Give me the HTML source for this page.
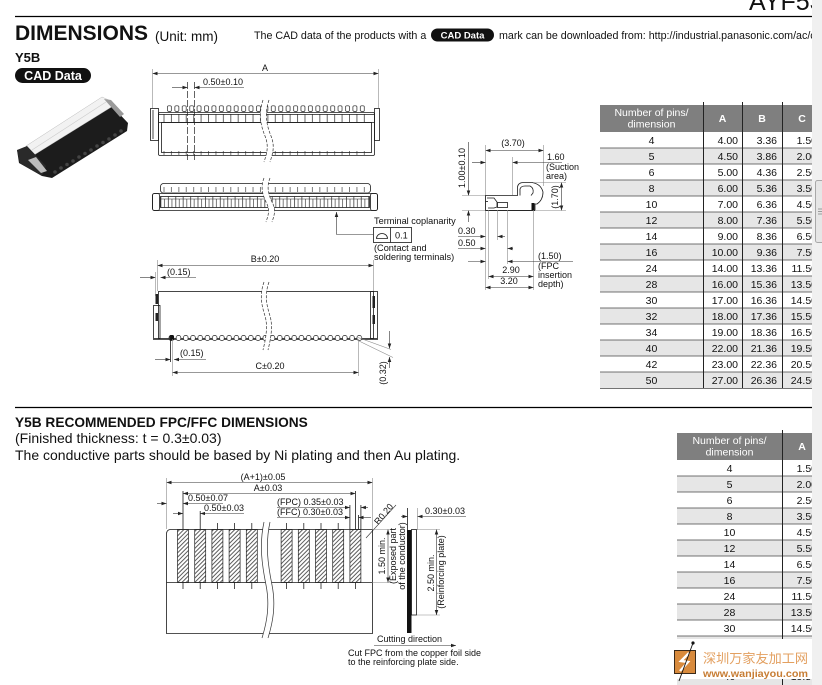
<!DOCTYPE html>
<html><head><meta charset="utf-8">
<style>
html,body{margin:0;padding:0;background:#fff;width:822px;height:685px;overflow:hidden}
svg{display:block}
text{font-family:"Liberation Sans",Arial,sans-serif;fill:#111}
.d{font-size:9px}
.ln{stroke:#1a1a1a;stroke-width:0.8;fill:none}
.dm{stroke:#333;stroke-width:0.6;fill:none}
.ex{stroke:#8a8a8a;stroke-width:0.6;fill:none}
.tb{font-size:10.5px}
.th{font-size:10.5px;fill:#fff}
</style></head><body>
<svg width="822" height="685" viewBox="0 0 822 685" xmlns="http://www.w3.org/2000/svg">
<defs>
<marker id="ar" viewBox="0 0 10 10" refX="10" refY="5" markerWidth="5" markerHeight="5" markerUnits="userSpaceOnUse" orient="auto-start-reverse"><path d="M0,1.5 L10,5 L0,8.5 z" fill="#222"/></marker>
<pattern id="pPin" x="166" y="105" width="7.42" height="8" patternUnits="userSpaceOnUse"><rect x="1.4" y="0.8" width="4" height="5.6" rx="1.2" fill="#fff" stroke="#222" stroke-width="0.7"/></pattern>
<pattern id="pWin" x="163.5" y="0" width="7.42" height="10" patternUnits="userSpaceOnUse"><line x1="0.5" y1="0" x2="0.5" y2="10" stroke="#222" stroke-width="0.7"/></pattern>
<pattern id="pTick" x="163.5" y="0" width="7.42" height="10" patternUnits="userSpaceOnUse"><line x1="0.5" y1="0" x2="0.5" y2="10" stroke="#222" stroke-width="0.6"/></pattern>
<pattern id="pCell" x="160.5" y="196.5" width="7.42" height="11" patternUnits="userSpaceOnUse"><line x1="0.4" y1="0" x2="0.4" y2="11" stroke="#222" stroke-width="0.7"/><line x1="4" y1="2.5" x2="4" y2="11" stroke="#222" stroke-width="0.6"/><line x1="0" y1="2.5" x2="7.42" y2="2.5" stroke="#222" stroke-width="0.5"/></pattern>
<pattern id="pBot" x="168" y="335" width="7.23" height="7" patternUnits="userSpaceOnUse"><rect x="1" y="0.5" width="4.6" height="5" rx="2" fill="#fff" stroke="#222" stroke-width="0.7"/></pattern>
<pattern id="ph" width="3" height="3" patternUnits="userSpaceOnUse" patternTransform="rotate(45)"><line x1="0.5" y1="0" x2="0.5" y2="3" stroke="#333" stroke-width="0.8"/></pattern>
</defs>

<!-- ===== HEADER ===== -->
<text x="749" y="10" font-size="25">AYF53</text>
<line x1="15" y1="16.5" x2="812" y2="16.5" stroke="#000" stroke-width="1.2"/>
<text x="15" y="40" font-size="21" font-weight="bold">DIMENSIONS</text>
<text x="155" y="41" font-size="13.5">(Unit: mm)</text>
<text x="254" y="39" font-size="10.7">The CAD data of the products with a</text>
<rect x="431" y="28.5" width="63" height="13" rx="6.5" fill="#111"/>
<text x="462.5" y="38.5" font-size="9.5" font-weight="bold" text-anchor="middle" style="fill:#fff">CAD Data</text>
<text x="499" y="39" font-size="10.7">mark can be downloaded from: http://industrial.panasonic.com/ac/c</text>
<text x="15" y="62" font-size="13" font-weight="bold">Y5B</text>
<rect x="15" y="68" width="76" height="15" rx="7.5" fill="#111"/>
<text x="53" y="80" font-size="12.5" font-weight="bold" text-anchor="middle" style="fill:#fff">CAD Data</text>

<!-- ===== PRODUCT PHOTO ===== -->
<g>
<polygon points="30,152 110,104 128,123 127,131 52,178 42,176 19,163 17,150" fill="#1c1c1c"/>
<polygon points="26,146 102,97 111,101 113,106 34,155" fill="#f2f2f2" stroke="#bbb" stroke-width="0.5"/>
<polyline points="32,150 106,102" stroke="#ccc" stroke-width="0.6" fill="none"/>
<polygon points="17,150 27,146 46,166 42,176 20,163" fill="#2a2a2a"/>
<polygon points="28,160 36,157 47,171 41,173" fill="#bdbdbd"/>
<polygon points="104,99 111,100 124,114 120,117" fill="#9a9a9a"/>
<g fill="#444">
<circle cx="55" cy="172" r="1.8"/><circle cx="61" cy="168" r="1.8"/><circle cx="67" cy="164.5" r="1.8"/><circle cx="73" cy="161" r="1.8"/><circle cx="79" cy="157" r="1.8"/><circle cx="85" cy="153.5" r="1.8"/><circle cx="91" cy="150" r="1.8"/><circle cx="97" cy="146" r="1.8"/><circle cx="103" cy="142.5" r="1.8"/><circle cx="109" cy="139" r="1.8"/><circle cx="115" cy="135" r="1.8"/><circle cx="121" cy="131" r="1.8"/>
</g>
</g>

<!-- ===== TOP VIEW ===== -->
<g>
<line class="dm" x1="152.5" y1="73.5" x2="378.5" y2="73.5" marker-start="url(#ar)" marker-end="url(#ar)"/>
<line class="ex" x1="152.5" y1="69" x2="152.5" y2="108"/>
<line class="ex" x1="378.5" y1="69" x2="378.5" y2="108"/>
<text class="d" x="265" y="71" text-anchor="middle">A</text>
<text class="d" x="203" y="85">0.50±0.10</text>
<line class="dm" x1="172" y1="87.5" x2="187.5" y2="87.5" marker-end="url(#ar)"/>
<line class="dm" x1="194.5" y1="87.5" x2="244" y2="87.5" marker-start="url(#ar)"/>
<line x1="187.5" y1="82" x2="187.5" y2="160" stroke="#222" stroke-width="0.7" stroke-dasharray="7,2"/>
<line x1="194.5" y1="82" x2="194.5" y2="160" stroke="#222" stroke-width="0.7" stroke-dasharray="7,2"/>
<rect class="ln" x="150.5" y="108.5" width="8" height="32"/>
<line class="ln" x1="153" y1="110" x2="153" y2="139"/>
<rect class="ln" x="374.5" y="108.5" width="5" height="32"/>
<rect class="ln" x="158.5" y="112.5" width="216" height="43" rx="1.5" fill="#fff"/>
<rect x="163" y="114" width="207" height="8" fill="url(#pWin)"/>
<line class="ln" x1="159" y1="114.5" x2="374" y2="114.5"/>
<line class="ln" x1="159" y1="122.5" x2="374" y2="122.5"/>
<rect class="ln" x="161.5" y="122.5" width="210" height="30"/>
<rect x="163" y="151" width="207" height="4" fill="url(#pTick)"/>
<rect x="166" y="105" width="200" height="7.5" fill="url(#pPin)"/>
<path d="M263,100 C258,115 261,126 265,136 C269,146 267,153 264,162 L270,162 C273,153 275,146 271,136 C267,126 264,115 269,100 Z" fill="#fff"/>
<path d="M263,100 C258,115 261,126 265,136 C269,146 267,153 264,162" stroke="#333" stroke-width="0.7" fill="none" stroke-dasharray="3,1.5"/>
<path d="M269,100 C264,115 267,126 271,136 C275,146 273,153 270,162" stroke="#333" stroke-width="0.7" fill="none" stroke-dasharray="3,1.5"/>
</g>

<!-- ===== FRONT VIEW ===== -->
<g>
<rect class="ln" x="160.5" y="183.5" width="210" height="9.5" rx="3" fill="#fff"/>
<rect x="163" y="187" width="207" height="5" fill="url(#pTick)"/>
<rect class="ln" x="152.5" y="193.5" width="225" height="17" rx="2" fill="#fff"/>
<rect x="160.5" y="196.5" width="209" height="11" fill="url(#pCell)"/>
<rect class="ln" x="160.5" y="196.5" width="209" height="11"/>
<rect class="ln" x="152.5" y="193.5" width="7" height="17" rx="2"/>
<rect class="ln" x="370.5" y="193.5" width="7" height="17" rx="2"/>
<path d="M264,178 C260,188 263,196 267,204 C270,211 268,216 266,222 L272,222 C274,216 276,211 273,204 C269,196 266,188 270,178 Z" fill="#fff"/>
<path d="M264,178 C260,188 263,196 267,204 C270,211 268,216 266,222" stroke="#333" stroke-width="0.7" fill="none" stroke-dasharray="3,1.5"/>
<path d="M270,178 C266,188 269,196 273,204 C276,211 274,216 272,222" stroke="#333" stroke-width="0.7" fill="none" stroke-dasharray="3,1.5"/>
<line class="dm" x1="336.5" y1="234.5" x2="336.5" y2="212" marker-end="url(#ar)"/>
<polyline class="dm" points="336.5,234.5 373,234.5"/>
</g>

<!-- Terminal coplanarity -->
<text x="374" y="224" font-size="9.2">Terminal coplanarity</text>
<rect class="ln" x="373.5" y="227.5" width="38" height="15" fill="#fff"/>
<line class="ln" x1="390.5" y1="227.5" x2="390.5" y2="242.5"/>
<path d="M376.5,238.5 A5.5,5 0 0 1 387.5,238.5 Z" class="ln"/>
<text x="395" y="238.5" font-size="9.2">0.1</text>
<text x="374" y="251" font-size="9.2">(Contact and</text>
<text x="374" y="260" font-size="9.2">soldering terminals)</text>

<!-- ===== SIDE VIEW ===== -->
<g>
<text class="d" x="513" y="146" text-anchor="middle">(3.70)</text>
<line class="dm" x1="485.5" y1="150.5" x2="543.5" y2="150.5" marker-start="url(#ar)" marker-end="url(#ar)"/>
<line class="ex" x1="485.5" y1="145" x2="485.5" y2="290"/>
<line class="ex" x1="543.5" y1="145" x2="543.5" y2="186"/>
<text class="d" x="547" y="160">1.60</text>
<text class="d" x="546" y="170">(Suction</text>
<text class="d" x="546" y="179">area)</text>
<line class="dm" x1="472" y1="162.5" x2="485.5" y2="162.5" marker-end="url(#ar)"/>
<line class="dm" x1="512.5" y1="162.5" x2="562" y2="162.5" marker-start="url(#ar)"/>
<line class="ex" x1="512.5" y1="157" x2="512.5" y2="195"/>
<text class="d" transform="translate(465,168) rotate(-90)" text-anchor="middle">1.00±0.10</text>
<line class="dm" x1="468.5" y1="142" x2="468.5" y2="195.5" marker-end="url(#ar)"/>
<line class="dm" x1="468.5" y1="222" x2="468.5" y2="210.5" marker-end="url(#ar)"/>
<line class="ex" x1="462" y1="195.5" x2="485" y2="195.5"/>
<line class="ex" x1="462" y1="210.5" x2="485" y2="210.5"/>
<!-- profile -->
<path class="ln" d="M485.5,195.5 L517.5,195.5 L517.5,187 Q518,182.5 524,182.5 L532,182.5 Q541,184 543,192 Q543,200 537,204 L535,204 L535,210.5 L485.5,210.5 Z" fill="#fff"/>
<path class="ln" d="M520,195.5 L520,189 Q521,186 525,186 L530,186 Q534,188 533,193 L531,195.5"/>
<path class="ln" d="M487,198 L494,198 L497,202 L497,207 L494,208 L488,208"/>
<rect class="ln" x="497.5" y="202.5" width="10" height="5"/>
<line class="ln" x1="485.5" y1="201.5" x2="488" y2="201.5"/>
<rect x="531.5" y="203" width="3" height="7" fill="#111"/>
<line class="ln" x1="486" y1="210.5" x2="535" y2="210.5" stroke-width="1.4"/>
<text class="d" transform="translate(558,197) rotate(-90)" text-anchor="middle">(1.70)</text>
<line class="dm" x1="561.5" y1="182.5" x2="561.5" y2="210.5" marker-start="url(#ar)" marker-end="url(#ar)"/>
<line class="ex" x1="533" y1="182.5" x2="566" y2="182.5"/>
<line class="ex" x1="536" y1="210.5" x2="566" y2="210.5"/>
<line class="ex" x1="488.5" y1="210" x2="488.5" y2="279"/>
<line class="ex" x1="497.5" y1="210" x2="497.5" y2="240"/>
<line class="ex" x1="507.5" y1="210" x2="507.5" y2="264"/>
<line class="ex" x1="533.5" y1="210" x2="533.5" y2="290"/>
<text class="d" x="458" y="234">0.30</text>
<line class="dm" x1="458" y1="236.5" x2="485.5" y2="236.5" marker-end="url(#ar)"/>
<line class="dm" x1="497.5" y1="236.5" x2="505" y2="236.5" marker-start="url(#ar)"/>
<text class="d" x="458" y="246">0.50</text>
<line class="dm" x1="458" y1="248.5" x2="485.5" y2="248.5" marker-end="url(#ar)"/>
<line class="dm" x1="507.5" y1="248.5" x2="513" y2="248.5" marker-start="url(#ar)"/>
<text class="d" x="538" y="259">(1.50)</text>
<line class="dm" x1="468" y1="261.5" x2="485.5" y2="261.5" marker-end="url(#ar)"/>
<line class="dm" x1="507.5" y1="261.5" x2="573" y2="261.5" marker-start="url(#ar)"/>
<text class="d" x="538" y="269">(FPC</text>
<text class="d" x="538" y="278">insertion</text>
<text class="d" x="538" y="287">depth)</text>
<text class="d" x="511" y="273" text-anchor="middle">2.90</text>
<line class="dm" x1="488.5" y1="276.5" x2="533.5" y2="276.5" marker-start="url(#ar)" marker-end="url(#ar)"/>
<text class="d" x="509" y="284" text-anchor="middle">3.20</text>
<line class="dm" x1="485.5" y1="287.5" x2="533.5" y2="287.5" marker-start="url(#ar)" marker-end="url(#ar)"/>
</g>

<!-- ===== B / C VIEW ===== -->
<g>
<text class="d" x="265" y="262" text-anchor="middle">B±0.20</text>
<line class="dm" x1="157.5" y1="265.5" x2="373.5" y2="265.5" marker-start="url(#ar)" marker-end="url(#ar)"/>
<line class="ex" x1="157.5" y1="260" x2="157.5" y2="291"/>
<line class="ex" x1="373.5" y1="260" x2="373.5" y2="291"/>
<text class="d" x="167" y="275">(0.15)</text>
<line class="dm" x1="140" y1="277.5" x2="155.5" y2="277.5" marker-end="url(#ar)"/>
<line class="dm" x1="160.5" y1="277.5" x2="196" y2="277.5" marker-start="url(#ar)"/>
<line class="ex" x1="155.5" y1="272" x2="155.5" y2="296"/>
<rect class="ln" x="158.5" y="291.5" width="215" height="47" fill="#fff"/>
<rect class="ln" x="153.5" y="305.5" width="6.5" height="33" fill="#fff"/>
<rect x="155.5" y="294" width="2.5" height="10" fill="#222"/>
<rect x="155.5" y="313" width="2.5" height="8" fill="#222"/>
<rect class="ln" x="370.5" y="291.5" width="7" height="47" fill="#fff"/>
<rect x="372.5" y="296" width="2.5" height="12" fill="#222"/>
<rect x="372.5" y="315" width="2.5" height="9" fill="#222"/>
<line class="ln" x1="153" y1="339.5" x2="378" y2="339.5"/>
<rect x="168" y="335" width="195" height="7" fill="url(#pBot)"/>
<rect x="169.5" y="335" width="4.5" height="5.5" rx="1.5" fill="#111"/>
<path d="M264,282 C259,296 262,306 265,316 C268,326 266,338 263,350 L268,350 C271,338 273,326 270,316 C267,306 264,296 269,282 Z" fill="#fff"/>
<path d="M264,282 C259,296 262,306 265,316 C268,326 266,338 263,350" stroke="#333" stroke-width="0.7" fill="none" stroke-dasharray="3,1.5"/>
<path d="M269,282 C264,296 267,306 270,316 C273,326 271,338 268,350" stroke="#333" stroke-width="0.7" fill="none" stroke-dasharray="3,1.5"/>
<line class="ex" x1="172.5" y1="339" x2="172.5" y2="376"/>
<line class="ex" x1="358.5" y1="339" x2="358.5" y2="376"/>
<line class="ln" x1="170.5" y1="336" x2="170.5" y2="362" stroke-width="1.2"/>
<text class="d" x="180" y="356">(0.15)</text>
<line class="dm" x1="155" y1="359.5" x2="170.5" y2="359.5" marker-end="url(#ar)"/>
<line class="dm" x1="174" y1="359.5" x2="206" y2="359.5" marker-start="url(#ar)"/>
<text class="d" x="270" y="369" text-anchor="middle">C±0.20</text>
<line class="dm" x1="172.5" y1="372.5" x2="358.5" y2="372.5" marker-start="url(#ar)" marker-end="url(#ar)"/>
<line class="ex" x1="358" y1="337.5" x2="391" y2="349.5"/>
<line class="ex" x1="358" y1="340.5" x2="393" y2="357.5"/>
<line class="dm" x1="389.5" y1="331" x2="389.5" y2="348.5" marker-end="url(#ar)"/>
<line class="dm" x1="389.5" y1="368" x2="389.5" y2="357" marker-end="url(#ar)"/>
<text class="d" transform="translate(386,373) rotate(-90)" text-anchor="middle">(0.32)</text>
</g>

<!-- ===== TABLE 1 ===== -->
<g>
<rect x="600" y="105" width="222" height="27" fill="#7f7f7f"/>
<text class="th" x="651.5" y="116" text-anchor="middle">Number of pins/</text>
<text class="th" x="651.5" y="127.5" text-anchor="middle">dimension</text>
<text class="th" x="722.5" y="122" text-anchor="middle" font-weight="bold">A</text>
<text class="th" x="762" y="122" text-anchor="middle" font-weight="bold">B</text>
<text class="th" x="802" y="122" text-anchor="middle" font-weight="bold">C</text>
<g fill="#e6e6e6">
<rect x="600" y="148" width="222" height="16"/><rect x="600" y="180" width="222" height="16"/><rect x="600" y="212" width="222" height="16"/><rect x="600" y="244" width="222" height="16"/><rect x="600" y="276" width="222" height="16"/><rect x="600" y="308" width="222" height="16"/><rect x="600" y="340" width="222" height="16"/><rect x="600" y="372" width="222" height="16"/>
</g>
<g stroke="#444" stroke-width="0.7">
<line x1="600" y1="148" x2="822" y2="148"/><line x1="600" y1="164" x2="822" y2="164"/><line x1="600" y1="180" x2="822" y2="180"/><line x1="600" y1="196" x2="822" y2="196"/><line x1="600" y1="212" x2="822" y2="212"/><line x1="600" y1="228" x2="822" y2="228"/><line x1="600" y1="244" x2="822" y2="244"/><line x1="600" y1="260" x2="822" y2="260"/><line x1="600" y1="276" x2="822" y2="276"/><line x1="600" y1="292" x2="822" y2="292"/><line x1="600" y1="308" x2="822" y2="308"/><line x1="600" y1="324" x2="822" y2="324"/><line x1="600" y1="340" x2="822" y2="340"/><line x1="600" y1="356" x2="822" y2="356"/><line x1="600" y1="372" x2="822" y2="372"/><line x1="600" y1="388.5" x2="822" y2="388.5"/>
</g>
<g stroke="#222" stroke-width="1">
<line x1="703.5" y1="102" x2="703.5" y2="388"/><line x1="742.5" y1="102" x2="742.5" y2="388"/><line x1="782.5" y1="102" x2="782.5" y2="388"/>
</g>
<g class="tb" text-anchor="middle">
<text class="tb" x="651.5" y="144">4</text><text class="tb" x="651.5" y="160">5</text><text class="tb" x="651.5" y="176">6</text><text class="tb" x="651.5" y="192">8</text><text class="tb" x="651.5" y="208">10</text><text class="tb" x="651.5" y="224">12</text><text class="tb" x="651.5" y="240">14</text><text class="tb" x="651.5" y="256">16</text><text class="tb" x="651.5" y="272">24</text><text class="tb" x="651.5" y="288">28</text><text class="tb" x="651.5" y="304">30</text><text class="tb" x="651.5" y="320">32</text><text class="tb" x="651.5" y="336">34</text><text class="tb" x="651.5" y="352">40</text><text class="tb" x="651.5" y="368">42</text><text class="tb" x="651.5" y="384">50</text>
</g>
<g text-anchor="end">
<text class="tb" x="738" y="144">4.00</text><text class="tb" x="738" y="160">4.50</text><text class="tb" x="738" y="176">5.00</text><text class="tb" x="738" y="192">6.00</text><text class="tb" x="738" y="208">7.00</text><text class="tb" x="738" y="224">8.00</text><text class="tb" x="738" y="240">9.00</text><text class="tb" x="738" y="256">10.00</text><text class="tb" x="738" y="272">14.00</text><text class="tb" x="738" y="288">16.00</text><text class="tb" x="738" y="304">17.00</text><text class="tb" x="738" y="320">18.00</text><text class="tb" x="738" y="336">19.00</text><text class="tb" x="738" y="352">22.00</text><text class="tb" x="738" y="368">23.00</text><text class="tb" x="738" y="384">27.00</text>
<text class="tb" x="777" y="144">3.36</text><text class="tb" x="777" y="160">3.86</text><text class="tb" x="777" y="176">4.36</text><text class="tb" x="777" y="192">5.36</text><text class="tb" x="777" y="208">6.36</text><text class="tb" x="777" y="224">7.36</text><text class="tb" x="777" y="240">8.36</text><text class="tb" x="777" y="256">9.36</text><text class="tb" x="777" y="272">13.36</text><text class="tb" x="777" y="288">15.36</text><text class="tb" x="777" y="304">16.36</text><text class="tb" x="777" y="320">17.36</text><text class="tb" x="777" y="336">18.36</text><text class="tb" x="777" y="352">21.36</text><text class="tb" x="777" y="368">22.36</text><text class="tb" x="777" y="384">26.36</text>
<text class="tb" x="817" y="144">1.50</text><text class="tb" x="817" y="160">2.00</text><text class="tb" x="817" y="176">2.50</text><text class="tb" x="817" y="192">3.50</text><text class="tb" x="817" y="208">4.50</text><text class="tb" x="817" y="224">5.50</text><text class="tb" x="817" y="240">6.50</text><text class="tb" x="817" y="256">7.50</text><text class="tb" x="817" y="272">11.50</text><text class="tb" x="817" y="288">13.50</text><text class="tb" x="817" y="304">14.50</text><text class="tb" x="817" y="320">15.50</text><text class="tb" x="817" y="336">16.50</text><text class="tb" x="817" y="352">19.50</text><text class="tb" x="817" y="368">20.50</text><text class="tb" x="817" y="384">24.50</text>
</g>
</g>

<!-- ===== SECTION 2 ===== -->
<line x1="15" y1="407.5" x2="812" y2="407.5" stroke="#000" stroke-width="1.2"/>
<text x="15" y="427" font-size="13.7" font-weight="bold">Y5B RECOMMENDED FPC/FFC DIMENSIONS</text>
<text x="15" y="443" font-size="14">(Finished thickness: t = 0.3±0.03)</text>
<text x="15" y="460" font-size="14">The conductive parts should be based by Ni plating and then Au plating.</text>

<!-- ===== FPC DRAWING ===== -->
<g>
<text class="d" x="263" y="480" text-anchor="middle">(A+1)±0.05</text>
<line class="dm" x1="166.5" y1="482.5" x2="372.5" y2="482.5" marker-start="url(#ar)" marker-end="url(#ar)"/>
<line class="ex" x1="166.5" y1="478" x2="166.5" y2="529"/>
<line class="ex" x1="372.5" y1="478" x2="372.5" y2="529"/>
<text class="d" x="268" y="491" text-anchor="middle">A±0.03</text>
<line class="dm" x1="183" y1="493.5" x2="355.4" y2="493.5" marker-start="url(#ar)" marker-end="url(#ar)"/>
<line class="ln" x1="183" y1="491" x2="183" y2="529"/>
<line class="ln" x1="355.4" y1="491" x2="355.4" y2="529"/>
<text class="d" x="188" y="501">0.50±0.07</text>
<line class="dm" x1="157" y1="503.5" x2="166.5" y2="503.5" marker-end="url(#ar)"/>
<line class="dm" x1="183" y1="503.5" x2="223" y2="503.5" marker-start="url(#ar)"/>
<text class="d" x="204" y="511">0.50±0.03</text>
<line class="dm" x1="173" y1="513.5" x2="183" y2="513.5" marker-end="url(#ar)"/>
<line class="dm" x1="200.2" y1="513.5" x2="244" y2="513.5" marker-start="url(#ar)"/>
<line class="ln" x1="200.2" y1="511" x2="200.2" y2="529"/>
<text class="d" x="277" y="505">(FPC) 0.35±0.03</text>
<line class="dm" x1="277" y1="507.5" x2="349.9" y2="507.5" marker-end="url(#ar)"/>
<line class="dm" x1="360.9" y1="507.5" x2="368" y2="507.5" marker-start="url(#ar)"/>
<text class="d" x="277" y="515">(FFC) 0.30±0.03</text>
<line class="dm" x1="277" y1="517.5" x2="349.9" y2="517.5" marker-end="url(#ar)"/>
<line class="dm" x1="358.5" y1="517.5" x2="371" y2="517.5" marker-start="url(#ar)"/>
<line class="ln" x1="349.9" y1="505" x2="349.9" y2="529"/>
<line class="ln" x1="358.5" y1="515" x2="358.5" y2="529"/>
<line class="ln" x1="360.9" y1="505" x2="360.9" y2="529"/>
<text class="d" transform="translate(386,516) rotate(-50)" text-anchor="middle">R0.20</text>
<line class="dm" x1="366" y1="538" x2="396" y2="505"/>
<path class="ln" d="M166.5,633.5 L166.5,534 Q166.5,529.5 171,529.5 L372.5,529.5 L372.5,633.5 Z" fill="#fff"/>
<line class="ln" x1="166.5" y1="582.5" x2="372.5" y2="582.5"/>
<g stroke="#222" stroke-width="0.7" fill="url(#ph)">
<rect x="177.5" y="529.5" width="11" height="53"/><rect x="194.7" y="529.5" width="11" height="53"/><rect x="211.9" y="529.5" width="11" height="53"/><rect x="229.1" y="529.5" width="11" height="53"/><rect x="246.3" y="529.5" width="11" height="53"/>
<rect x="281.1" y="529.5" width="11" height="53"/><rect x="298.3" y="529.5" width="11" height="53"/><rect x="315.5" y="529.5" width="11" height="53"/><rect x="332.7" y="529.5" width="11" height="53"/><rect x="349.9" y="529.5" width="11" height="53"/>
</g>
<g stroke="#222" stroke-width="0.8">
<line x1="217.4" y1="523" x2="217.4" y2="529"/><line x1="234.6" y1="523" x2="234.6" y2="529"/><line x1="251.8" y1="523" x2="251.8" y2="529"/><line x1="286.6" y1="523" x2="286.6" y2="529"/><line x1="303.8" y1="523" x2="303.8" y2="529"/><line x1="321" y1="523" x2="321" y2="529"/><line x1="338.2" y1="523" x2="338.2" y2="529"/>
<line x1="183" y1="582" x2="183" y2="589"/><line x1="200.2" y1="582" x2="200.2" y2="589"/><line x1="217.4" y1="582" x2="217.4" y2="589"/><line x1="234.6" y1="582" x2="234.6" y2="589"/><line x1="251.8" y1="582" x2="251.8" y2="589"/><line x1="286.6" y1="582" x2="286.6" y2="589"/><line x1="303.8" y1="582" x2="303.8" y2="589"/><line x1="321" y1="582" x2="321" y2="589"/><line x1="338.2" y1="582" x2="338.2" y2="589"/><line x1="355.4" y1="582" x2="355.4" y2="589"/>
</g>
<path d="M264,522 C259,545 262,565 266,585 C270,605 267,622 262,638 L268,638 C273,622 276,605 272,585 C268,565 265,545 270,522 Z" fill="#fff"/>
<path d="M264,522 C259,545 262,565 266,585 C270,605 267,622 262,638" stroke="#333" stroke-width="0.7" fill="none"/>
<path d="M270,522 C265,545 268,565 272,585 C276,605 273,622 268,638" stroke="#333" stroke-width="0.7" fill="none"/>
<line class="ex" x1="372" y1="529.5" x2="392" y2="529.5"/>
<line class="ex" x1="372" y1="582.5" x2="392" y2="582.5"/>
<line class="dm" x1="388" y1="529.5" x2="388" y2="582.5" marker-start="url(#ar)" marker-end="url(#ar)"/>
<text class="d" transform="translate(385,556) rotate(-90)" text-anchor="middle">1.50 min.</text>
<text class="d" transform="translate(396,556) rotate(-90)" text-anchor="middle">(Exposed part</text>
<text class="d" transform="translate(405,556) rotate(-90)" text-anchor="middle">of the conductor)</text>
<!-- side profile -->
<line class="ln" x1="407.5" y1="508" x2="407.5" y2="530"/>
<line class="ex" x1="417.5" y1="508" x2="417.5" y2="530"/>
<rect x="407" y="530" width="4.5" height="103" fill="#111"/>
<rect class="ln" x="411.5" y="529.5" width="5" height="85.5" fill="#fff"/>
<text class="d" x="425" y="514">0.30±0.03</text>
<line class="dm" x1="401" y1="516.5" x2="407.5" y2="516.5" marker-end="url(#ar)"/>
<line class="dm" x1="417.5" y1="516.5" x2="466" y2="516.5" marker-start="url(#ar)"/>
<line class="ex" x1="417" y1="529.5" x2="440" y2="529.5"/>
<line class="ex" x1="417" y1="615" x2="440" y2="615"/>
<line class="dm" x1="436.5" y1="529.5" x2="436.5" y2="615" marker-start="url(#ar)" marker-end="url(#ar)"/>
<text class="d" transform="translate(434,573) rotate(-90)" text-anchor="middle">2.50 min.</text>
<text class="d" transform="translate(444,572) rotate(-90)" text-anchor="middle">(Reinforcing plate)</text>
<text class="d" x="377" y="642">Cutting direction</text>
<line class="dm" x1="374" y1="645.5" x2="456" y2="645.5" marker-end="url(#ar)"/>
<text class="d" x="348" y="656">Cut FPC from the copper foil side</text>
<text class="d" x="348" y="665">to the reinforcing plate side.</text>
</g>

<!-- ===== TABLE 2 ===== -->
<g>
<rect x="677" y="433" width="145" height="27" fill="#7f7f7f"/>
<text class="th" x="729.5" y="444" text-anchor="middle">Number of pins/</text>
<text class="th" x="729.5" y="455.5" text-anchor="middle">dimension</text>
<text class="th" x="802" y="450" text-anchor="middle" font-weight="bold">A</text>
<g fill="#e6e6e6">
<rect x="677" y="476" width="145" height="16"/><rect x="677" y="508" width="145" height="16"/><rect x="677" y="540" width="145" height="16"/><rect x="677" y="572" width="145" height="16"/><rect x="677" y="604" width="145" height="16"/><rect x="677" y="636" width="145" height="16"/><rect x="677" y="668" width="145" height="17"/>
</g>
<g stroke="#444" stroke-width="0.7">
<line x1="677" y1="476" x2="822" y2="476"/><line x1="677" y1="492" x2="822" y2="492"/><line x1="677" y1="508" x2="822" y2="508"/><line x1="677" y1="524" x2="822" y2="524"/><line x1="677" y1="540" x2="822" y2="540"/><line x1="677" y1="556" x2="822" y2="556"/><line x1="677" y1="572" x2="822" y2="572"/><line x1="677" y1="588" x2="822" y2="588"/><line x1="677" y1="604" x2="822" y2="604"/><line x1="677" y1="620" x2="822" y2="620"/><line x1="677" y1="636" x2="822" y2="636"/><line x1="677" y1="652" x2="822" y2="652"/><line x1="677" y1="668" x2="822" y2="668"/>
</g>
<line x1="782.5" y1="430" x2="782.5" y2="685" stroke="#222" stroke-width="1"/>
<g text-anchor="middle">
<text class="tb" x="729.5" y="472">4</text><text class="tb" x="729.5" y="488">5</text><text class="tb" x="729.5" y="504">6</text><text class="tb" x="729.5" y="520">8</text><text class="tb" x="729.5" y="536">10</text><text class="tb" x="729.5" y="552">12</text><text class="tb" x="729.5" y="568">14</text><text class="tb" x="729.5" y="584">16</text><text class="tb" x="729.5" y="600">24</text><text class="tb" x="729.5" y="616">28</text><text class="tb" x="729.5" y="632">30</text><text class="tb" x="729.5" y="648">32</text><text class="tb" x="729.5" y="664">34</text><text class="tb" x="729.5" y="680">40</text>
</g>
<g text-anchor="end">
<text class="tb" x="817" y="472">1.50</text><text class="tb" x="817" y="488">2.00</text><text class="tb" x="817" y="504">2.50</text><text class="tb" x="817" y="520">3.50</text><text class="tb" x="817" y="536">4.50</text><text class="tb" x="817" y="552">5.50</text><text class="tb" x="817" y="568">6.50</text><text class="tb" x="817" y="584">7.50</text><text class="tb" x="817" y="600">11.50</text><text class="tb" x="817" y="616">13.50</text><text class="tb" x="817" y="632">14.50</text><text class="tb" x="817" y="648">15.50</text><text class="tb" x="817" y="664">16.50</text><text class="tb" x="817" y="680">19.50</text>
</g>
</g>

<!-- ===== WATERMARK ===== -->
<g>
<rect x="671" y="639" width="146" height="40" fill="#fff"/>
<rect x="674.5" y="650.5" width="21" height="23" fill="#d88a3c" stroke="#3a2a1a" stroke-width="1"/>
<path d="M689,653 L681,661 L688,662 L680,671" stroke="#fff" stroke-width="2.4" fill="none"/>
<line x1="693" y1="643" x2="679" y2="681" stroke="#111" stroke-width="0.9"/>
<circle cx="693" cy="643" r="1.6" fill="#111"/>
<text x="703" y="663" font-size="13" textLength="105" lengthAdjust="spacingAndGlyphs" style="fill:#e3a060;font-family:'Liberation Sans','Noto Sans CJK SC',sans-serif">深圳万家友加工网</text>
<text x="703" y="677" font-size="10.5" font-weight="bold" textLength="105" lengthAdjust="spacingAndGlyphs" style="fill:#c77d34">www.wanjiayou.com</text>
</g>

<!-- ===== SCROLLBAR ===== -->
<rect x="812" y="0" width="10" height="685" fill="#f0f0f0"/>
<rect x="815.5" y="180.5" width="8" height="62" rx="2" fill="#e6e6e6" stroke="#a8a8a8" stroke-width="1"/>
<g stroke="#888" stroke-width="0.8"><line x1="818" y1="209" x2="822" y2="209"/><line x1="818" y1="211.5" x2="822" y2="211.5"/><line x1="818" y1="214" x2="822" y2="214"/></g>
</svg>
</body></html>
